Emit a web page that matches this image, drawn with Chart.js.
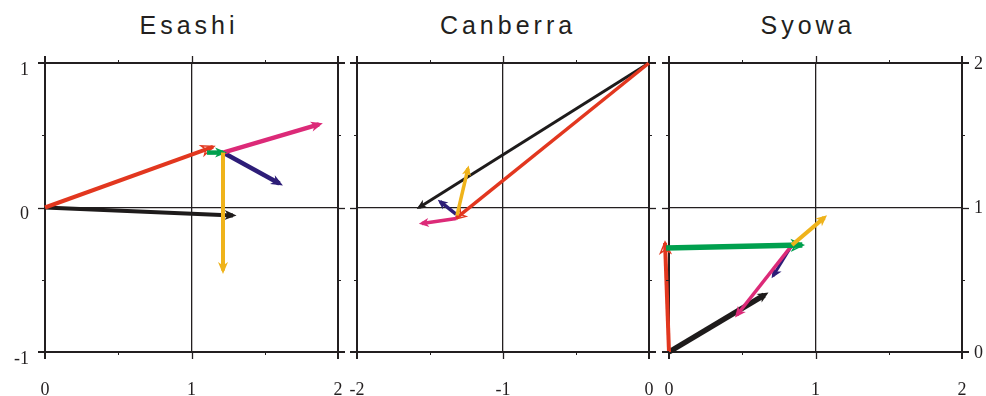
<!DOCTYPE html>
<html>
<head>
<meta charset="utf-8">
<script src="https://cdn.jsdelivr.net/npm/chart.js@4.4.1/dist/chart.umd.min.js"></script>
<style>
  html, body { margin: 0; padding: 0; background: #fff; }
  #wrap { position: relative; width: 986px; height: 396px; overflow: hidden; }
  .panel { position: absolute; top: 0; }
  .panel canvas { display: block; }
  .title {
    position: absolute; top: 13px; line-height: 25px;
    font-family: 'Liberation Sans', Arial, sans-serif; font-size: 25px;
    letter-spacing: 4px; color: #231f20;
    transform: translateX(-50%); white-space: nowrap;
  }
</style>
</head>
<body>
<div id="wrap">
  <div class="title" style="left:189px">Esashi</div>
  <div class="title" style="left:508px">Canberra</div>
  <div class="title" style="left:808px">Syowa</div>
  <div class="panel" style="left:0"><canvas id="chart-esashi" width="346" height="396"></canvas></div>
  <div class="panel" style="left:346px"><canvas id="chart-canberra" width="310" height="396"></canvas></div>
  <div class="panel" style="left:656px"><canvas id="chart-syowa" width="330" height="396"></canvas></div>
</div>
<script>
(function() {
  'use strict';

  // ── Data: vector components, bottom layer first ───────────────
  const SERIES = ['black', 'red', 'navy', 'pink', 'green', 'yellow'];

  // tail / head of each vector, same order as SERIES (null = not drawn)
  const esashiTail = [[0, 0], [0, 0], [1.215, 0.38], [1.215, 0.38], [1.106, 0.38], [1.215, 0.38]];
  const esashiHead = [[1.283, -0.055], [1.147, 0.42], [1.60, 0.166], [1.87, 0.575], [1.215, 0.38], [1.215, -0.436]];

  const canberraTail = [[0, 1], [0, 1], [-1.32, -0.048], [-1.32, -0.076], null, [-1.315, -0.055]];
  const canberraHead = [[-1.575, 0.0], [-1.322, -0.076], [-1.43, 0.04], [-1.555, -0.11], null, [-1.24, 0.27]];

  const syowaTail = [[0, 0], [0, 0], [0.84, 0.74], [0.84, 0.74], [-0.02, 0.72], [0.84, 0.74]];
  const syowaHead = [[0.65, 0.394], [-0.027, 0.755], [0.71, 0.526], [0.464, 0.256], [0.91, 0.74], [1.06, 0.93]];

  // axis ranges
  const esashiX = [0, 2],   esashiY = [-1, 1];
  const canberraX = [-2, 0], canberraY = [-1, 1];
  const syowaX = [0, 2],    syowaY = [0, 2];

  // ── Styles ────────────────────────────────────────────────────
  const COLORS = {
    black: '#1e1b1b', red: '#e2371f', green: '#00a04e',
    navy: '#2d1d78', pink: '#dc2a78', yellow: '#efb31b'
  };
  const AXIS = '#231f20';
  const SERIF = '"Liberation Serif", "Times New Roman", Times, serif';
  const CLEAR = 'rgba(0,0,0,0)';

  Chart.defaults.font.family = SERIF;
  Chart.defaults.font.size = 18;
  Chart.defaults.color = AXIS;

  // ── Plugins ───────────────────────────────────────────────────
  const arrowHeads = {
    id: 'arrowHeads',
    afterDatasetDraw(chart, args) {
      const ds = chart.data.datasets[args.index];
      const pts = args.meta.data;
      if (!pts || pts.length < 2) return;
      const a = pts[0], b = pts[1];
      const ang = Math.atan2(b.y - a.y, b.x - a.x);
      const L = ds.headLength, W = ds.headWidth;
      const ctx = chart.ctx;
      ctx.save();
      ctx.translate(b.x, b.y);
      ctx.rotate(ang);
      ctx.translate(ds.headOpen ? 1 : ds.borderWidth * 0.9, 0);
      ctx.beginPath();
      ctx.moveTo(0, 0);
      ctx.lineTo(-L, W / 2);
      ctx.lineTo(-L * 0.72, 0);
      ctx.lineTo(-L, -W / 2);
      ctx.closePath();
      if (ds.headOpen) {
        ctx.lineWidth = 1.4;
        ctx.strokeStyle = ds.borderColor;
        ctx.lineJoin = 'miter';
        ctx.stroke();
      } else {
        ctx.fillStyle = ds.borderColor;
        ctx.fill();
      }
      ctx.restore();
    }
  };

  // tick marks outside the frame on all four sides (major 7px, minor 3px)
  const frameTicks = {
    id: 'frameTicks',
    afterDraw(chart) {
      const { ctx, chartArea: ca } = chart;
      const x = chart.scales.x, y = chart.scales.y;
      const seg = (x0, y0, x1, y1) => { ctx.beginPath(); ctx.moveTo(x0, y0); ctx.lineTo(x1, y1); ctx.stroke(); };
      ctx.save();
      ctx.strokeStyle = AXIS;
      for (let v = x.min; v <= x.max + 1e-9; v += 0.5) {
        const major = Math.abs(v - Math.round(v)) < 1e-9;
        const len = major ? 7 : 3;
        const edge = Math.abs(v - x.min) < 1e-9 || Math.abs(v - x.max) < 1e-9;
        ctx.lineWidth = major ? (edge ? 2 : 1.3) : 1;
        const p = Math.round(x.getPixelForValue(v)) + (edge ? 0 : 0.5);
        seg(p, ca.bottom, p, ca.bottom + len);
        seg(p, ca.top - len, p, ca.top);
      }
      for (let v = y.min; v <= y.max + 1e-9; v += 0.5) {
        const major = Math.abs(v - Math.round(v)) < 1e-9;
        const len = major ? 7 : 3;
        const edge = Math.abs(v - y.min) < 1e-9 || Math.abs(v - y.max) < 1e-9;
        ctx.lineWidth = major ? (edge ? 2 : 1.3) : 1;
        const p = Math.round(y.getPixelForValue(v)) + (edge ? 0 : 0.5);
        seg(ca.left - len, p, ca.left, p);
        seg(ca.right, p, ca.right + len, p);
      }
      ctx.restore();
    }
  };

  // ── Builder ───────────────────────────────────────────────────
  function gridWidth(range) {
    return (ctx) => (ctx.tick && (ctx.tick.value === range[0] || ctx.tick.value === range[1])) ? 2 : 1.3;
  }

  function makeDatasets(tails, heads, widths, head, openSet) {
    const out = [];
    SERIES.forEach((name, i) => {
      if (!tails[i] || !heads[i]) return;
      out.push({
        label: name,
        data: [{ x: tails[i][0], y: tails[i][1] }, { x: heads[i][0], y: heads[i][1] }],
        showLine: true,
        borderColor: COLORS[name],
        backgroundColor: COLORS[name],
        borderWidth: widths[name],
        borderCapStyle: 'butt',
        pointRadius: 0,
        pointHoverRadius: 0,
        clip: false,
        order: -i,
        headLength: head[0],
        headWidth: head[1],
        headOpen: openSet.includes(name)
      });
    });
    return out;
  }

  function makeChart(id, o) {
    const tickFont = { family: SERIF, size: 18, weight: 'normal' };
    new Chart(document.getElementById(id), {
      type: 'scatter',
      data: { datasets: makeDatasets(o.tails, o.heads, o.widths, o.head, o.open) },
      options: {
        responsive: false,
        animation: false,
        events: [],
        layout: { padding: o.padding },
        plugins: { legend: { display: false }, tooltip: { enabled: false } },
        scales: {
          x: {
            type: 'linear', min: o.xRange[0], max: o.xRange[1],
            afterFit(s) { s.height = 44; },
            ticks: {
              stepSize: 1, autoSkip: false, maxRotation: 0,
              font: tickFont, color: AXIS, padding: 0
            },
            // invisible tick length pushes the labels down without widening the axis
            grid: { color: AXIS, lineWidth: gridWidth(o.xRange), drawTicks: true, tickLength: 27, tickColor: CLEAR },
            border: { display: false }
          },
          y: {
            type: 'linear', min: o.yRange[0], max: o.yRange[1],
            position: o.yPos,
            afterFit(s) { s.width = o.yWidth; },
            ticks: {
              stepSize: 1, display: o.yLabels,
              font: tickFont, color: AXIS,
              padding: 0, labelOffset: o.yOffset
            },
            grid: { color: AXIS, lineWidth: gridWidth(o.yRange), drawTicks: true, tickLength: o.yPad, tickColor: CLEAR },
            border: { display: false }
          }
        }
      },
      plugins: [arrowHeads, frameTicks]
    });
  }

  makeChart('chart-esashi', {
    tails: esashiTail, heads: esashiHead, xRange: esashiX, yRange: esashiY,
    widths: { black: 4, red: 4, navy: 4.5, pink: 4.5, green: 4.5, yellow: 4 },
    head: [12, 10], open: ['red'],
    yPos: 'left', yWidth: 45, yLabels: true, yPad: 16, yOffset: 7,
    padding: { top: 63, right: 8, left: 0, bottom: 0 }
  });

  makeChart('chart-canberra', {
    tails: canberraTail, heads: canberraHead, xRange: canberraX, yRange: canberraY,
    widths: { black: 3, red: 3.5, navy: 3.5, pink: 3.5, green: 3.5, yellow: 3.5 },
    head: [10, 9], open: ['red'],
    yPos: 'left', yWidth: 11, yLabels: false, yPad: 0, yOffset: 0,
    padding: { top: 63, right: 7, left: 0, bottom: 0 }
  });

  makeChart('chart-syowa', {
    tails: syowaTail, heads: syowaHead, xRange: syowaX, yRange: syowaY,
    widths: { black: 5.5, red: 4, navy: 3, pink: 3.5, green: 5.5, yellow: 4 },
    head: [11, 10], open: ['red', 'green'],
    yPos: 'right', yWidth: 24, yLabels: true, yPad: 12, yOffset: 1,
    padding: { top: 63, right: 0, left: 13, bottom: 0 }
  });
})();
</script>
</body>
</html>
